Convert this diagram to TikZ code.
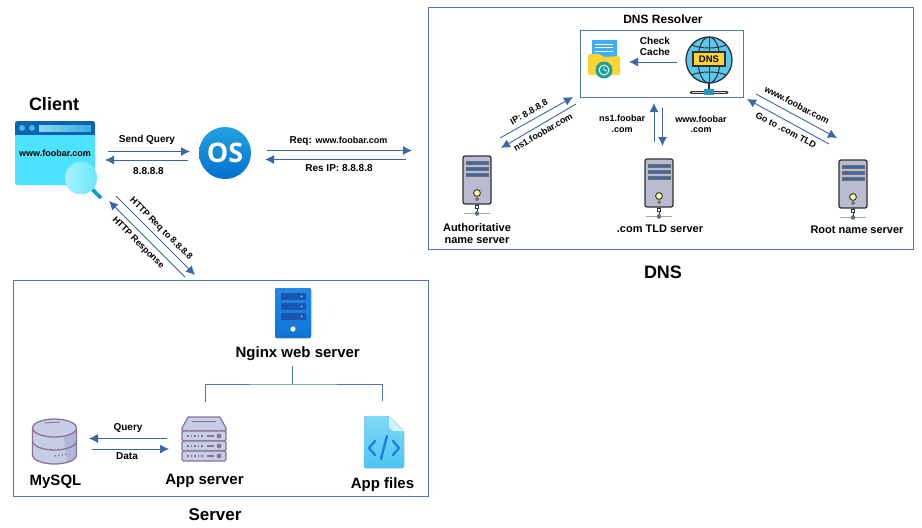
\documentclass[tikz,border=0pt]{standalone}
\usepackage{fontspec}
\setmainfont{Liberation Sans}
\newfontfamily\osfont{Open Sans}
\usetikzlibrary{arrows.meta}

\definecolor{boxblue}{HTML}{4F78B0}
\definecolor{flowblue}{HTML}{3A68A6}
\definecolor{towergray}{HTML}{B9BCCE}
\definecolor{towerdark}{HTML}{2E3138}
\definecolor{rackline}{HTML}{8D7199}
\definecolor{rackfill}{HTML}{C6CEE6}
\definecolor{rackshade}{HTML}{B0B6D6}
\definecolor{skybody}{HTML}{4DE3FF}
\definecolor{skybar}{HTML}{0F62B2}
\definecolor{skylens}{HTML}{A8F4FF}
\definecolor{skyglobe}{HTML}{5AC8EA}
\definecolor{skyfile}{HTML}{4CC6F2}
\definecolor{nginxtop}{HTML}{2389E6}
\definecolor{nginxbot}{HTML}{0F74D6}
\definecolor{nginxbar}{HTML}{1D55AE}
\definecolor{codeblue}{HTML}{1F7FDB}
\definecolor{oslight}{HTML}{22A2E2}
\definecolor{osdeep}{HTML}{0070CF}
\definecolor{tagyellow}{HTML}{FCD535}
\definecolor{clockteal}{HTML}{1E9E94}

\tikzset{
    frame/.style={draw=boxblue,line width=1pt},
    flow/.style={draw=flowblue,line width=0.9pt,-{Latex[length=9pt,width=9pt]}},
    small/.style={font=\fontsize{10}{11}\selectfont\bfseries,inner sep=0pt,align=center},
    tiny/.style={font=\fontsize{9}{10.5}\selectfont\bfseries,inner sep=0pt,align=center},
    mid/.style={font=\fontsize{11}{12}\selectfont\bfseries,inner sep=0pt,align=center},
    big/.style={font=\fontsize{15}{16}\selectfont\bfseries,inner sep=0pt},
    title/.style={font=\fontsize{18}{19}\selectfont\bfseries,inner sep=0pt},
    tower/.pic={
        \draw[towerdark,line width=1pt] (0,48) -- (0,57);
        \draw[gray!70,line width=0.8pt] (-13,57.5) -- (13,57.5);
        \fill[towergray,draw=towerdark,line width=1.3pt,rounded corners=2pt] (-14,0) rectangle (14,48);
        \foreach \ytop in {5,11,17}
            \draw[fill=flowblue,draw=towerdark!70,line width=0.5pt] (-11,\ytop) rectangle (11,\ytop+3.5);
        \draw[fill=yellow!40,draw=towerdark,line width=0.9pt] (0,37) circle (3.4);
        \draw[fill=orange!70,draw=towerdark,line width=0.5pt] (0,43) circle (1.4);
        \draw[fill=white,draw=towerdark,line width=0.5pt] (-1.5,49) rectangle (1.5,52);
        \fill[flowblue!70!gray,draw=towerdark!70,line width=0.4pt] (0,57.5) circle (2);
    },
    rackserver/.pic={
        \draw[fill=rackfill,draw=rackline,line width=1.2pt,line join=round] (6,0) -- (38,0) -- (44,11) -- (44,14) -- (0,14) -- (0,11) -- cycle;
        \draw[rackline,line width=1pt] (10,4) -- (34,4);
        \foreach \ytop in {14,24,34} {
            \draw[fill=rackfill,draw=rackline,line width=1.2pt,rounded corners=1.5pt] (0,\ytop) rectangle (44,\ytop+10);
            \draw[rackline,line width=1.3pt,dash pattern=on 1.5pt off 2pt] (5,\ytop+5) -- (22,\ytop+5);
            \draw[rackline,line width=1.3pt] (25,\ytop+5) -- (32,\ytop+5);
            \fill[rackline] (37,\ytop+5) circle (2.4);
        }
    },
    dbstack/.pic={
        \fill[rackfill] (-22,9) -- (-22,36) arc (180:0:22 and 9) -- (22,9) -- cycle;
        \fill[rackshade] (9,16) -- (22,9) -- (22,36) arc (0:55:22 and 9) -- cycle;
        \draw[fill=rackfill,draw=rackline,line width=1.3pt] (0,9) ellipse (22 and 9);
        \draw[rackline,line width=1.3pt] (-22,22) arc (180:0:22 and 9);
        \draw[rackline,line width=1.3pt] (-22,9) -- (-22,36) arc (180:0:22 and 9) -- (22,9);
        \draw[rackline,line width=0.9pt] (-10,4) -- (5,3);
        \draw[rackline,line width=1.3pt,dash pattern=on 1.5pt off 2pt] (0,37) -- (14,35);
    },
}

\begin{document}
\begin{tikzpicture}[x=1pt,y=-1pt]
    \useasboundingbox (0,0) rectangle (922,528);

    % Outer boxes
    \draw[frame] (428,7) rectangle (913,249);
    \draw[frame] (13.5,280) rectangle (428,496.5);
    \draw[frame] (580,30.5) rectangle (743,97);

    % Client window
    \fill[skybody,rounded corners=2.5pt] (15,121) rectangle (95,185);
    \fill[skybar,rounded corners=2.5pt] (15,121) rectangle (95,128);
    \fill[skybar] (15,125) rectangle (95,135);
    \fill[skybody!70!skybar] (22,128) circle (3);
    \fill[skybody!70!skybar] (32,128) circle (3);
    \fill[left color=skylens!80!skybar,right color=skybody!60!skybar] (39,125) rectangle (91,131);
    \node[tiny] (browser) at (55,153) {www.foobar.com};
    % magnifier
    \draw[skybar!60!cyan,line width=3.8pt] (92,189) -- (101,198);
    \shade[left color=skylens,right color=skybody!85!white,draw=skybody!70!white,line width=0.5pt] (81,178) circle (16);
    \node[title] (client) at (54,104) {Client};

    % OS badge
    \node[circle,minimum size=52pt,inner sep=0pt,top color=oslight,bottom color=osdeep,text=white,font=\fontsize{27}{27}\selectfont\osfont\bfseries] (os) at (225,153) {OS};

    % Client and OS arrows
    \coordinate (queryA) at (108,151.5);
    \coordinate (queryB) at (190,151.5);
    \coordinate (answerA) at (188,160);
    \coordinate (answerB) at (105,160);
    \draw[flow] (queryA) -- (queryB);
    \draw[flow] (answerA) -- (answerB);
    \node[small] (querylabel) at (147,140) {Send Query};
    \node[small] (answerlabel) at (148.5,171.5) {8.8.8.8};

    % OS and DNS arrows
    \coordinate (reqA) at (267,150.5);
    \coordinate (reqB) at (412,150.5);
    \coordinate (resA) at (406,159.5);
    \coordinate (resB) at (265,159.5);
    \draw[flow] (reqA) -- (reqB);
    \draw[flow] (resA) -- (resB);
    \node[small] (reqlabel) at (338.5,141.5) {Req: {\fontsize{9}{10}\selectfont www.foobar.com}};
    \node[small] (reslabel) at (339,168) {Res IP: 8.8.8.8};

    % Client and server arrows
    \coordinate (httpA) at (116,196);
    \coordinate (httpB) at (195,275);
    \coordinate (replyA) at (185,277);
    \coordinate (replyB) at (109,201);
    \draw[flow] (httpA) -- (httpB);
    \draw[flow] (replyA) -- (replyB);
    \node[tiny,rotate=-45] (httplabel) at (161,229) {HTTP Req to 8.8.8.8};
    \node[tiny,rotate=-45] (replylabel) at (138,243) {HTTP Response};

    % Resolver
    \node[font=\fontsize{12}{13}\selectfont\bfseries,inner sep=0pt] (resolver) at (663,19.5) {DNS Resolver};
    % cache folder
    \fill[skybody!70!skyfile!80!blue] (592,40) rectangle (617,62);
    \foreach \yline in {44,47.5,51}
        \draw[white,line width=0.5pt] (595,\yline) -- (613,\yline);
    \fill[tagyellow,rounded corners=1.5pt] (588,54) -- (600,54) -- (603,57) -- (620,56) -- (620,75) -- (588,75) -- cycle;
    \fill[clockteal] (604,70) circle (8.5);
    \draw[white,line width=0.9pt] (604,70) circle (5);
    \draw[white,line width=0.7pt] (604,67) -- (604,70) -- (607,71);
    % dns globe
    \draw[towerdark,line width=1.4pt] (709,83) -- (709,92);
    \draw[towerdark,line width=3pt,line cap=round] (691,92) -- (727,92);
    \draw[gray!30,line width=1pt] (692,92) -- (726,92);
    \fill[flowblue!70!cyan] (704,88.5) rectangle (714,94.5);
    \draw[fill=skyglobe,draw=towerdark,line width=1.3pt] (709,60) circle (23);
    \draw[towerdark,line width=1pt] (709,60) ellipse (11 and 23);
    \draw[towerdark,line width=1pt] (709,37) -- (709,83);
    \draw[towerdark,line width=1pt] (692,45) .. controls (700,49) and (718,49) .. (726,45);
    \draw[towerdark,line width=1pt] (692,75) .. controls (700,71) and (718,71) .. (726,75);
    \node[fill=tagyellow,draw=towerdark,line width=1.3pt,minimum width=32pt,minimum height=14pt,inner sep=0pt,font=\fontsize{9.5}{10}\selectfont\bfseries] (dnstag) at (709,59) {DNS};
    % check cache arrow
    \coordinate (cacheA) at (677,62);
    \coordinate (cacheB) at (629,62);
    \draw[flow] (cacheA) -- (cacheB);
    \node[small] (cachelabel) at (655,46) {Check\\Cache};

    % Name servers
    \pic (authserver) at (477,156) {tower};
    \pic (tldserver) at (659,159) {tower};
    \pic (rootserver) at (853,160) {tower};
    \node[mid] (authlabel) at (477,234) {Authoritative\\name server};
    \node[mid] (tldlabel) at (660,229) {.com TLD server};
    \node[mid] (rootlabel) at (857,230) {Root name server};
    \node[title] (dnslabel) at (663,272) {DNS};

    % Authoritative arrows
    \coordinate (ipA) at (500,138);
    \coordinate (ipB) at (573,97);
    \coordinate (nsA) at (576,104);
    \coordinate (nsB) at (501,148);
    \draw[flow] (ipA) -- (ipB);
    \draw[flow] (nsA) -- (nsB);
    \node[tiny,rotate=30] (iplabel) at (529,112) {IP: 8.8.8.8};
    \node[tiny,rotate=30] (nslabel) at (543,132) {ns1.foobar.com};

    % TLD arrows
    \coordinate (tldA) at (654,142);
    \coordinate (tldB) at (654,103);
    \coordinate (tldC) at (662.5,108);
    \coordinate (tldD) at (662.5,146);
    \draw[flow] (tldA) -- (tldB);
    \draw[flow] (tldC) -- (tldD);
    \node[tiny] (tldns) at (622,124) {ns1.foobar\\.com};
    \node[tiny] (tldwww) at (701,124.5) {www.foobar\\.com};

    % Root arrows
    \coordinate (rootA) at (756,94);
    \coordinate (rootB) at (837,138);
    \coordinate (rootC) at (829,144);
    \coordinate (rootD) at (747,99);
    \draw[flow] (rootA) -- (rootB);
    \draw[flow] (rootC) -- (rootD);
    \node[tiny,rotate=-28] (rootwww) at (797,105) {www.foobar.com};
    \node[tiny,rotate=-28] (roottld) at (786,130) {Go to .com TLD};

    % Nginx server
    \fill[top color=nginxtop,bottom color=nginxbot,rounded corners=2pt] (275,288) rectangle (311,338);
    \foreach \ytop in {292.7,302.7,312.7} {
        \fill[nginxbar] (280.5,\ytop) rectangle (305.5,\ytop+7.3);
        \fill[skybody] (301.5,\ytop+3.6) circle (1);
    }
    \fill[white] (293,329) circle (2.6);
    \node[big] (nginx) at (297.7,354) {Nginx web server};

    % Nginx tree
    \coordinate (treeTop) at (292,366);
    \coordinate (treeMid) at (292,384);
    \coordinate (treeLeft) at (205.7,402);
    \coordinate (treeRight) at (382,401);
    \draw[draw=boxblue,line width=0.9pt] (treeTop) -- (treeMid);
    \draw[draw=boxblue,line width=0.9pt] (treeLeft) |- (treeMid) -| (treeRight);

    % App server and MySQL
    \pic (appserver) at (182,417) {rackserver};
    \pic (mysql) at (54.5,419) {dbstack};
    \node[big] (applabel) at (204.5,481) {App server};
    \node[big] (mysqllabel) at (55.5,482) {MySQL};
    \coordinate (sqlA) at (167,438.5);
    \coordinate (sqlB) at (89,438.5);
    \coordinate (dataA) at (92,449);
    \coordinate (dataB) at (169,449);
    \draw[flow] (sqlA) -- (sqlB);
    \draw[flow] (dataA) -- (dataB);
    \node[small] (sqllabel) at (128,428) {Query};
    \node[small] (datalabel) at (127,456) {Data};

    % App files
    \fill[top color=skyfile!70!white,bottom color=skyfile,rounded corners=2pt] (364,416) -- (389,416) -- (404,431) -- (404,468) -- (364,468) -- cycle;
    \fill[skylens!60!white] (389,416) -- (404,431) -- (393,431) -- (389,427) -- cycle;
    \draw[codeblue,line width=2.4pt,line cap=round,line join=round] (375,441) -- (369,448) -- (375,455);
    \draw[codeblue,line width=2.4pt,line cap=round,line join=round] (393,441) -- (399,448) -- (393,455);
    \draw[codeblue,line width=2.4pt,line cap=round] (387,436) -- (381,459);
    \node[big] (fileslabel) at (382.5,485) {App files};
    \node[font=\fontsize{17}{18}\selectfont\bfseries,inner sep=0pt] (serverlabel) at (215,514.5) {Server};
\end{tikzpicture}
\end{document}
